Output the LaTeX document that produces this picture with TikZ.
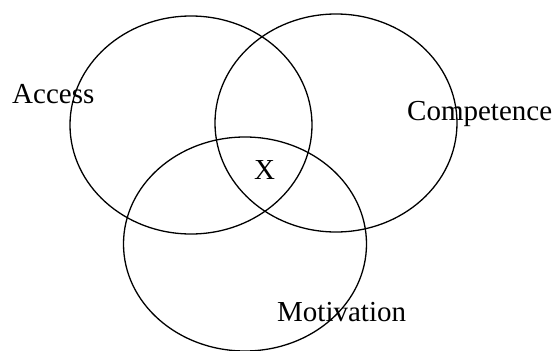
\documentclass[tikz,border=0pt]{standalone}
\usepackage{fontspec}
\setmainfont{Liberation Serif}
\usepackage{tikz}
\usetikzlibrary{positioning, calc}

\tikzset{
    set/.style={line width=1.3pt},
    setlabel/.style={anchor=base west, inner sep=0pt, font=\fontsize{29}{34}\selectfont}
}

\begin{document}
\begin{tikzpicture}[x=1pt, y=-1pt]
    \useasboundingbox (0,0) rectangle (558,351);

    % Access
    \coordinate (access) at (191,125);
    \draw[set] (access) ellipse [x radius=121pt, y radius=109pt];
    \node[setlabel] (accesslabel) at (12,103) {Access};

    % Competence
    \coordinate (competence) at (336,123);
    \draw[set] (competence) ellipse [x radius=121pt, y radius=109pt];
    \node[setlabel] (competencelabel) at (407,120) {Competence};

    % Motivation
    \coordinate (motivation) at (245,244);
    \draw[set] (motivation) ellipse [x radius=121.5pt, y radius=107pt];
    \node[setlabel] (motivationlabel) at (277,321) {Motivation};

    % Overlap
    \node[setlabel] (overlap) at (254,179) {X};
\end{tikzpicture}
\end{document}
